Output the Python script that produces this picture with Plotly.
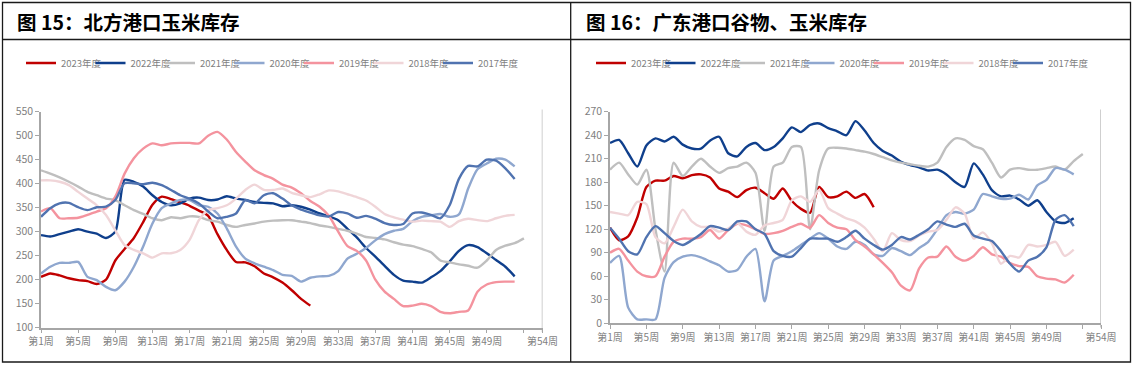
import plotly.graph_objects as go

# ---------------- data ----------------
years = ["2023年度", "2022年度", "2021年度", "2020年度", "2019年度", "2018年度", "2017年度"]
colors = ["#C00000", "#0F3F8C", "#BFBFBF", "#8FA7CF", "#F4939E", "#F0D5D8", "#5073B0"]

# 图15 北方港口玉米库存 (weekly, starting 第1周)
north_2023 = [206, 213, 209, 203, 199, 197, 191, 200, 240, 264, 287, 320, 356, 373, 368, 361, 354, 344, 333, 295,
              262, 237, 236, 228, 213, 205, 194, 178, 160, 146]
north_2022 = [293, 290, 295, 300, 305, 300, 296, 287, 300, 408, 404, 394, 376, 362, 355, 359, 369, 371, 366, 367,
              374, 369, 366, 362, 360, 359, 353, 355, 352, 346, 338, 332, 324, 306, 288, 266, 248, 229, 210, 198,
              196, 194, 205, 218, 238, 260, 272, 268, 255, 241, 227, 207]
north_2021 = [428, 421, 413, 404, 394, 383, 376, 369, 366, 355, 345, 337, 328, 324, 330, 328, 332, 331, 324, 321,
              314, 310, 314, 317, 321, 323, 324, 324, 321, 318, 313, 310, 306, 302, 296, 289, 287, 284, 278, 273,
              270, 264, 257, 240, 236, 232, 229, 225, 240, 262, 271, 276, 286]
north_2020 = [213, 227, 235, 235, 237, 206, 199, 185, 178, 196, 227, 269, 317, 349, 359, 366, 366, 355, 352, 338,
              307, 269, 244, 234, 227, 220, 210, 208, 196, 204, 207, 208, 218, 244, 254, 266, 282, 295, 302, 306,
              322, 331, 334, 337, 331, 336, 390, 430, 442, 452, 450, 436]
north_2019 = [342, 349, 328, 328, 329, 335, 342, 349, 373, 421, 453, 473, 484, 480, 484, 485, 485, 484, 500, 508,
              492, 466, 446, 428, 418, 410, 398, 392, 380, 364, 352, 333, 300, 270, 260, 240, 200, 175, 160, 145,
              146, 150, 145, 133, 130, 133, 136, 175, 190, 195, 196, 196]
north_2018 = [407, 407, 404, 397, 383, 369, 355, 335, 303, 272, 262, 255, 246, 255, 255, 262, 283, 324, 345, 349,
              355, 369, 387, 398, 387, 387, 390, 381, 376, 372, 378, 386, 384, 378, 372, 365, 352, 337, 330, 325,
              321, 323, 322, 321, 310, 322, 327, 324, 322, 328, 333, 335]
north_2017 = [331, 349, 359, 360, 351, 345, 351, 352, 366, 401, 401, 399, 402, 397, 387, 376, 369, 359, 342, 328,
              331, 338, 366, 359, 376, 380, 369, 355, 346, 340, 334, 332, 341, 338, 329, 333, 327, 318, 314, 316,
              338, 340, 335, 328, 355, 410, 437, 436, 450, 448, 432, 410]

# 图16 广东港口谷物、玉米库存
south_2023 = [122, 106, 111, 135, 174, 182, 182, 188, 185, 189, 190, 186, 172, 168, 161, 170, 173, 166, 159, 172,
              156, 146, 141, 174, 161, 162, 168, 160, 165, 148]
south_2022 = [230, 234, 217, 200, 227, 236, 232, 238, 228, 223, 223, 233, 238, 217, 213, 225, 230, 221, 225, 236,
              250, 244, 253, 255, 249, 245, 240, 258, 246, 230, 220, 214, 206, 202, 199, 195, 196, 190, 180, 174,
              204, 190, 170, 162, 163, 158, 150, 157, 142, 130, 128, 134]
south_2021 = [196, 205, 190, 177, 196, 120, 66, 205, 188, 200, 210, 200, 192, 198, 200, 205, 192, 118, 200, 205,
              225, 225, 120, 195, 223, 224, 223, 221, 219, 216, 212, 208, 205, 203, 201, 200, 205, 225, 236, 234,
              226, 222, 205, 186, 196, 198, 196, 196, 198, 200, 196, 207, 216]
south_2020 = [77, 86, 20, 5, 5, 5, 58, 78, 85, 87, 84, 79, 74, 66, 68, 85, 95, 28, 80, 86,
              92, 100, 108, 115, 108, 98, 95, 104, 100, 88, 86, 96, 92, 87, 96, 104, 120, 138, 142, 140,
              145, 165, 162, 159, 159, 164, 158, 176, 183, 198, 196, 190]
south_2019 = [90, 95, 80, 66, 60, 60, 85, 104, 108, 108, 110, 119, 108, 119, 127, 125, 120, 114, 115, 118,
              123, 127, 122, 138, 128, 122, 120, 106, 98, 88, 77, 65, 48, 42, 70, 84, 85, 98, 85, 80,
              86, 97, 88, 85, 77, 73, 72, 60, 57, 56, 52, 62]
south_2018 = [142, 140, 138, 155, 152, 110, 102, 123, 145, 130, 123, 123, 117, 121, 128, 117, 113, 125, 128, 132,
              157, 162, 155, 170, 147, 140, 134, 130, 122, 108, 92, 115, 106, 105, 112, 117, 119, 132, 148, 140,
              108, 116, 102, 76, 86, 84, 100, 98, 100, 104, 86, 94]
south_2017 = [122, 108, 92, 88, 110, 124, 115, 105, 100, 106, 114, 124, 122, 119, 130, 130, 120, 114, 92, 86,
              85, 96, 108, 108, 108, 104, 110, 118, 108, 100, 94, 100, 110, 107, 113, 120, 130, 126, 123, 127,
              112, 108, 105, 92, 76, 66, 80, 85, 97, 132, 138, 124]

north_series = [north_2023, north_2022, north_2021, north_2020, north_2019, north_2018, north_2017]
south_series = [south_2023, south_2022, south_2021, south_2020, south_2019, south_2018, south_2017]

week_ticks = [1, 5, 9, 13, 17, 21, 25, 29, 33, 37, 41, 45, 49, 53, 55]
week_labels = ["第1周", "第5周", "第9周", "第13周", "第17周", "第21周", "第25周", "第29周",
               "第33周", "第37周", "第41周", "第45周", "第49周", "", "第54周"]

titles = ["图 15：北方港口玉米库存", "图 16：广东港口谷物、玉米库存"]

# ---------------- figure ----------------
W, H = 1134, 366
FONT = "Liberation Sans Narrow, Arial Narrow, Noto Sans CJK SC, sans-serif"
GRAY_TXT = "#7F7F7F"
AX_COL = "#A6A6A6"


def px(x):
    return x / W


def py(y):
    return (H - y) / H


fig = go.Figure()

for panel, (series, xa, ya, leg) in enumerate(((north_series, "x", "y", "legend"),
                                               (south_series, "x2", "y2", "legend2"))):
    for i, (name, col) in enumerate(zip(years, colors)):
        s = series[i]
        fig.add_trace(go.Scatter(
            x=list(range(1, len(s) + 1)), y=s, name=name, mode="lines",
            line=dict(color=col, width=2.4, shape="spline", smoothing=0.7),
            xaxis=xa, yaxis=ya, legend=leg,
            legendwidth=(40 if i == len(years) - 1 else None),
            hoverinfo="x+y+name"))

xcommon = dict(range=[1, 55], tickmode="array", tickvals=week_ticks, ticktext=week_labels,
               showgrid=False, zeroline=False, showline=True, linecolor=AX_COL, linewidth=1.5,
               ticks="outside", ticklen=4, tickcolor=AX_COL, tickwidth=1.2, automargin=False,
               tickfont=dict(family=FONT, size=10, color=GRAY_TXT), fixedrange=True)
ycommon = dict(showgrid=False, zeroline=False, showline=True, linecolor=AX_COL, linewidth=1.5,
               ticks="outside", ticklen=4, tickcolor=AX_COL, tickwidth=1.2, automargin=False,
               tickfont=dict(family=FONT, size=10.5, color=GRAY_TXT), fixedrange=True)

legcommon = dict(orientation="h", yanchor="middle", xanchor="left", entrywidthmode="pixels",
                 entrywidth=24.5, font=dict(family=FONT, size=9.5, color=GRAY_TXT),
                 bgcolor="rgba(0,0,0,0)", borderwidth=0, itemclick=False, itemdoubleclick=False)

fig.update_layout(
    width=W, height=H, margin=dict(l=0, r=0, t=0, b=0, pad=0, autoexpand=False),
    paper_bgcolor="white", plot_bgcolor="white",
    xaxis=dict(domain=[px(41), px(542.5)], anchor="y", **xcommon),
    yaxis=dict(domain=[py(327.7), py(111.7)], anchor="x", range=[100, 550], dtick=50, **ycommon),
    xaxis2=dict(domain=[px(610), px(1101)], anchor="y2", **xcommon),
    yaxis2=dict(domain=[py(323.3), py(111.7)], anchor="x2", range=[0, 270], dtick=30, **ycommon),
    legend=dict(x=px(21), y=py(63), **legcommon),
    legend2=dict(x=px(591), y=py(63), **legcommon),
    showlegend=True,
)

# right-hand border of each plot area
for xa, ya in (("x", "y"), ("x2", "y2")):
    fig.add_shape(type="line", xref=xa, yref=ya + " domain", x0=55, x1=55, y0=-0.02, y1=1.01,
                  line=dict(color="#BFBFBF", width=1.5), layer="below")

# report frame
frame = dict(color="#1A1A1A", width=1.3)
fig.add_shape(type="rect", xref="paper", yref="paper", x0=px(2.5), x1=px(1130.5), y0=py(362), y1=py(2.5),
              line=frame)
fig.add_shape(type="line", xref="paper", yref="paper", x0=px(2.5), x1=px(1130.5), y0=py(39.5), y1=py(39.5),
              line=frame)
fig.add_shape(type="line", xref="paper", yref="paper", x0=px(570.7), x1=px(570.7), y0=py(362), y1=py(2.5),
              line=frame)

for t, x0 in zip(titles, (15, 584)):
    fig.add_annotation(text="<b>" + t + "</b>", xref="paper", yref="paper", x=px(x0), y=py(21.5),
                       xanchor="left", yanchor="middle", showarrow=False,
                       font=dict(family="Noto Sans CJK SC, sans-serif", size=19.5, color="#000000"))

fig.write_html("out.html", config={"displayModeBar": False},
               post_script="document.body.style.margin='0';document.body.style.overflow='hidden';")
